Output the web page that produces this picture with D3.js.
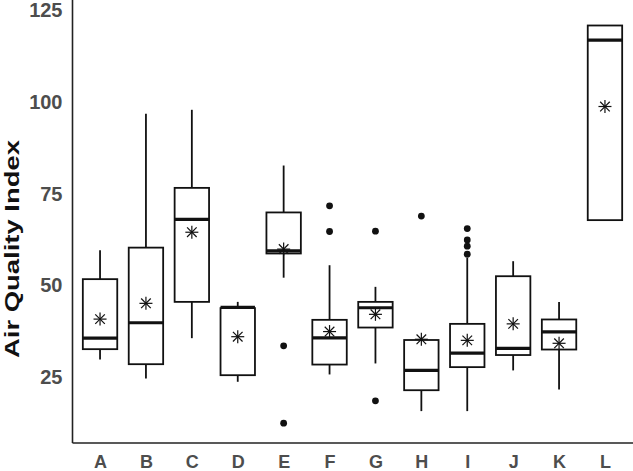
<!DOCTYPE html>
<html lang="en">
  <head>
    <meta charset="utf-8">
    <title>Air Quality Index</title>
    <style>
      body { margin: 0; background: #fff; }
      svg { display: block; }
    </style>
  </head>
  <body>
    <div id="chart"></div>
  </body>
  <script src="https://cdnjs.cloudflare.com/ajax/libs/d3/7.8.5/d3.min.js"></script>
  <script type="text/javascript">

    // values
    const categories = ['A', 'B', 'C', 'D', 'E', 'F', 'G', 'H', 'I', 'J', 'K', 'L']
    const whiskerLow  = [29.8, 24.6, 35.6, 23.7, 52.1, 25.7, 28.7, 15.7, 15.7, 26.8, 21.6, 67.8]
    const q1          = [32.6, 28.5, 45.5, 25.5, 58.7, 28.4, 38.5, 21.4, 27.7, 31.0, 32.5, 67.8]
    const medians     = [35.6, 39.8, 68.0, 44.0, 59.4, 35.7, 43.9, 26.8, 31.5, 32.8, 37.3, 116.9]
    const q3          = [51.7, 60.3, 76.6, 43.8, 69.9, 40.6, 45.5, 35.1, 39.5, 52.5, 40.7, 120.9]
    const whiskerHigh = [59.6, 96.8, 97.9, 45.5, 82.7, 55.5, 49.6, 35.1, 57.6, 56.6, 45.5, 120.9]
    const means       = [40.8, 45.1, 64.5, 36.0, 59.9, 37.4, 42.1, 35.3, 35.0, 39.5, 34.2, 98.8]
    const outliers    = [[], [], [], [], [33.5, 12.4], [71.7, 64.7], [64.8, 18.5], [68.9],
                         [65.5, 62.4, 60.7, 58.5], [], [], []]
    const yTicks = [25, 50, 75, 100, 125]

    const width = 633
    const height = 471
    const margin = { left: 72.5, right: 0.5, top: 5.7, bottom: 28 }

    const data = categories.map((c, i) => ({
      cat: c,
      lo: whiskerLow[i], q1: q1[i], med: medians[i], q3: q3[i], hi: whiskerHigh[i],
      mean: means[i], out: outliers[i]
    }))

    const svg = d3.select('#chart')
      .append('svg')
      .attr('width', width)
      .attr('height', height)

    const x = d3.scalePoint()
      .domain(categories)
      .range([margin.left, width - margin.right])
      .padding(0.6)

    const y = d3.scaleLinear()
      .domain([7, 126.3])
      .range([height - margin.bottom, margin.top])

    const boxW = x.step() * 0.75

    // axes
    const yAxis = svg.append('g')
      .attr('transform', `translate(${margin.left},0)`)
      .call(d3.axisLeft(y).tickValues(yTicks).tickSize(0).tickPadding(10))
    yAxis.select('.domain').remove()
    yAxis.selectAll('text')
      .style('font-family', 'Arial, "Liberation Sans", sans-serif')
      .style('font-size', '20px')
      .style('font-weight', 'bold')
      .attr('fill', '#4d4d4d')

    const xAxis = svg.append('g')
      .attr('transform', `translate(0,${height - margin.bottom})`)
      .call(d3.axisBottom(x).tickSize(0).tickPadding(12))
    xAxis.select('.domain').remove()
    xAxis.selectAll('text')
      .style('font-family', 'Arial, "Liberation Sans", sans-serif')
      .style('font-size', '18px')
      .style('font-weight', 'bold')
      .attr('fill', '#4d4d4d')

    svg.append('line')
      .attr('x1', margin.left).attr('x2', margin.left)
      .attr('y1', 0).attr('y2', height - margin.bottom)
      .attr('stroke', '#222').attr('stroke-width', 1.6)
    svg.append('line')
      .attr('x1', margin.left).attr('x2', width)
      .attr('y1', height - margin.bottom).attr('y2', height - margin.bottom)
      .attr('stroke', '#222').attr('stroke-width', 1.6)

    svg.append('text')
      .attr('transform', `translate(19,249) rotate(-90)`)
      .attr('text-anchor', 'middle')
      .attr('textLength', 218)
      .attr('lengthAdjust', 'spacingAndGlyphs')
      .style('font-family', 'Arial, "Liberation Sans", sans-serif')
      .style('font-size', '20px')
      .style('font-weight', 'bold')
      .attr('fill', '#111')
      .text('Air Quality Index')

    // boxes
    const g = svg.selectAll('.box')
      .data(data)
      .enter()
      .append('g')
      .attr('class', 'box')
      .attr('transform', d => `translate(${x(d.cat)},0)`)

    g.append('line')
      .attr('x1', 0).attr('x2', 0)
      .attr('y1', d => y(d.hi)).attr('y2', d => y(d.q3))
      .attr('stroke', '#111').attr('stroke-width', 1.8)
    g.append('line')
      .attr('x1', 0).attr('x2', 0)
      .attr('y1', d => y(d.q1)).attr('y2', d => y(d.lo))
      .attr('stroke', '#111').attr('stroke-width', 1.8)

    g.append('rect')
      .attr('x', -boxW / 2)
      .attr('width', boxW)
      .attr('y', d => y(d.q3))
      .attr('height', d => y(d.q1) - y(d.q3))
      .attr('fill', '#fff')
      .attr('stroke', '#111')
      .attr('stroke-width', 1.8)

    g.append('line')
      .attr('x1', -boxW / 2).attr('x2', boxW / 2)
      .attr('y1', d => y(d.med)).attr('y2', d => y(d.med))
      .attr('stroke', '#111').attr('stroke-width', 3.2)

    g.selectAll('.outlier')
      .data(d => d.out)
      .enter()
      .append('circle')
      .attr('class', 'outlier')
      .attr('cx', 0)
      .attr('cy', v => y(v))
      .attr('r', 3.4)
      .attr('fill', '#111')

    // mean asterisk
    const s = 6.5
    const d45 = 4.8
    const star = g.append('g')
      .attr('transform', d => `translate(0,${y(d.mean)})`)
      .attr('stroke', '#111')
      .attr('stroke-width', 1.2)
    star.append('line').attr('x1', 0).attr('x2', 0).attr('y1', -s).attr('y2', s)
    star.append('line').attr('x1', -s).attr('x2', s).attr('y1', 0).attr('y2', 0)
    star.append('line').attr('x1', -d45).attr('x2', d45).attr('y1', -d45).attr('y2', d45)
    star.append('line').attr('x1', -d45).attr('x2', d45).attr('y1', d45).attr('y2', -d45)

  </script>
</html>
